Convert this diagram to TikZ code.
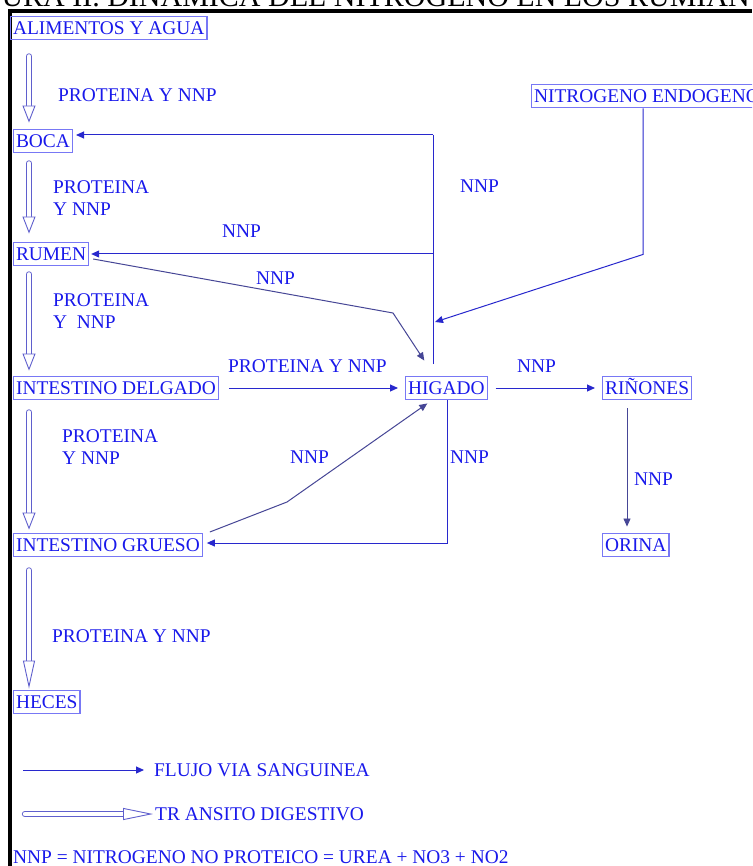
\documentclass[tikz,border=0pt]{standalone}
\usepackage{fontspec}
\setmainfont{Liberation Serif}
\usetikzlibrary{arrows.meta}
\definecolor{txt}{RGB}{25,25,235}
\definecolor{boxc}{RGB}{120,120,245}
\definecolor{flow}{RGB}{40,40,205}
\definecolor{flowd}{RGB}{70,70,150}
\definecolor{trans}{RGB}{95,95,205}
\begin{document}
\begin{tikzpicture}[x=1pt,y=-1pt,
  every node/.style={font=\fontsize{19.4}{22}\selectfont, text=txt},
  box/.style={draw=boxc, line width=1.1pt, inner xsep=2.5pt, inner ysep=5.5pt,
    text height=12.8pt, text depth=0pt},
  lbl/.style={inner sep=0pt, align=left, anchor=base west},
  blood/.style={draw=flow, line width=1pt, -{Triangle[length=8pt,width=7pt]}},
  bloodd/.style={blood, draw=flowd},
  transit/.style={draw=trans, double=white, double distance=4.5pt, line width=0.9pt,
    line cap=round, -{Triangle[open,length=17pt,width=13pt,line width=0.9pt,fill=white]}},
  transitlong/.style={transit, -{Triangle[open,length=28pt,width=12pt,line width=0.9pt,fill=white]}},
]
\clip (0,0) rectangle (752,866);
\fill[white] (0,0) rectangle (752,866);

% title (cut off) and frame
\node[anchor=base west, inner sep=0pt, text=black, font=\fontsize{30}{32}\selectfont]
  (title) at (-47,7) {FIGURA II. DINAMICA DEL NITROGENO EN LOS RUMIANTES};
\draw[line width=4pt] (8,11) -- (752,11);
\draw[line width=4pt] (10,9) -- (10,866);

% boxes
\node[box, anchor=west] (alim)  at (10,28)  {ALIMENTOS Y AGUA};
\node[box, anchor=west] (boca)  at (13,141) {BOCA};
\node[box, anchor=west] (rumen) at (13,254) {RUMEN};
\node[box, anchor=west] (intd)  at (13,388) {INTESTINO DELGADO};
\node[box, anchor=west] (hig)   at (405,388) {HIGADO};
\node[box, anchor=west] (rin)   at (602,388) {RIÑONES};
\node[box, anchor=west] (intg)  at (13,545) {INTESTINO GRUESO};
\node[box, anchor=west] (orina) at (602,545) {ORINA};
\node[box, anchor=west] (heces) at (13,702) {HECES};
\node[box, anchor=west] (nitro) at (531,96) {NITROGENO ENDOGENO};

% labels
\node[lbl] (l1) at (58,102) {PROTEINA Y NNP};
\node[lbl] (l2) at (53,216) {PROTEINA\\Y NNP};
\node[lbl] (l3) at (53,328) {PROTEINA\\ Y\ \ NNP};
\node[lbl] (l4) at (62,464) {PROTEINA\\Y NNP};
\node[lbl] (l5) at (52,642) {PROTEINA Y NNP};
\node[lbl] (n1) at (460,193) {NNP};
\node[lbl] (n2) at (222,238) {NNP};
\node[lbl] (n3) at (256,284) {NNP};
\node[lbl] (p1) at (228,372) {PROTEINA Y NNP};
\node[lbl] (n4) at (517,372) {NNP};
\node[lbl] (n5) at (290,463) {NNP};
\node[lbl] (n6) at (450,463) {NNP};
\node[lbl] (n7) at (634,485) {NNP};

% digestive transit
\draw[transit] ([shift={(19,16)}]alim.south west) -- ([shift={(16,-6)}]boca.north west);
\draw[transit] ([shift={(16,10)}]boca.south west) -- ([shift={(16,-8)}]rumen.north west);
\draw[transit] ([shift={(16,8)}]rumen.south west) -- ([shift={(16,-5)}]intd.north west);
\draw[transit] ([shift={(16,12)}]intd.south west) -- ([shift={(16,-3)}]intg.north west);
\draw[transitlong] ([shift={(16,13)}]intg.south west) -- ([shift={(16,-1)}]heces.north west);

% blood flow
\coordinate (hv) at (433,364);
\coordinate (j1) at (433,254);
\coordinate (j2) at (435,322);
\draw[flow, line width=1pt] (hv) -- (433,135);
\draw[blood, shorten >=3pt] (433,135) -- ([yshift=6pt]boca.east -| 433,0) -- ([yshift=6pt]boca.east);
\draw[blood, shorten >=2pt] (j1) -- (rumen.east);
\draw[blood] ([xshift=112pt]nitro.south west) -- ++(0,146) -- (j2);
\draw[bloodd] ([shift={(4,5)}]rumen.east) -- (393,313) -- ([shift={(-22,-15)}]hig.north);
\draw[blood] ([xshift=10pt]intd.east) -- ([xshift=-7pt]hig.west);
\draw[blood] ([xshift=8pt]hig.east) -- ([xshift=-7pt]rin.west);
\draw[bloodd, line width=0.8pt] ([shift={(25,8)}]rin.south west) -- ([shift={(25,-6)}]orina.north west);
\draw[blood, shorten >=4pt] ([xshift=1pt]hig.south) |- ([yshift=2pt]intg.east);
\draw[bloodd] ([shift={(7,-13)}]intg.east) -- (287,502) -- ([shift={(-19,3)}]hig.south);

% legend
\coordinate (la1) at (23,770);
\coordinate (la2) at (144,770);
\draw[blood] (la1) -- (la2);
\node[lbl] (lg1) at (154,776.5) {FLUJO VIA SANGUINEA};
\coordinate (lb1) at (25,814);
\coordinate (lb2) at (153,814);
\draw[transit, -{Triangle[open,length=30pt,width=12pt,line width=0.9pt,fill=white]}] (lb1) -- (lb2);
\node[lbl] (lg2) at (155,820.5) {TR ANSITO DIGESTIVO};
\node[lbl] (foot) at (13,863.5) {NNP = NITROGENO NO PROTEICO = UREA + NO3 + NO2};
\end{tikzpicture}
\end{document}
